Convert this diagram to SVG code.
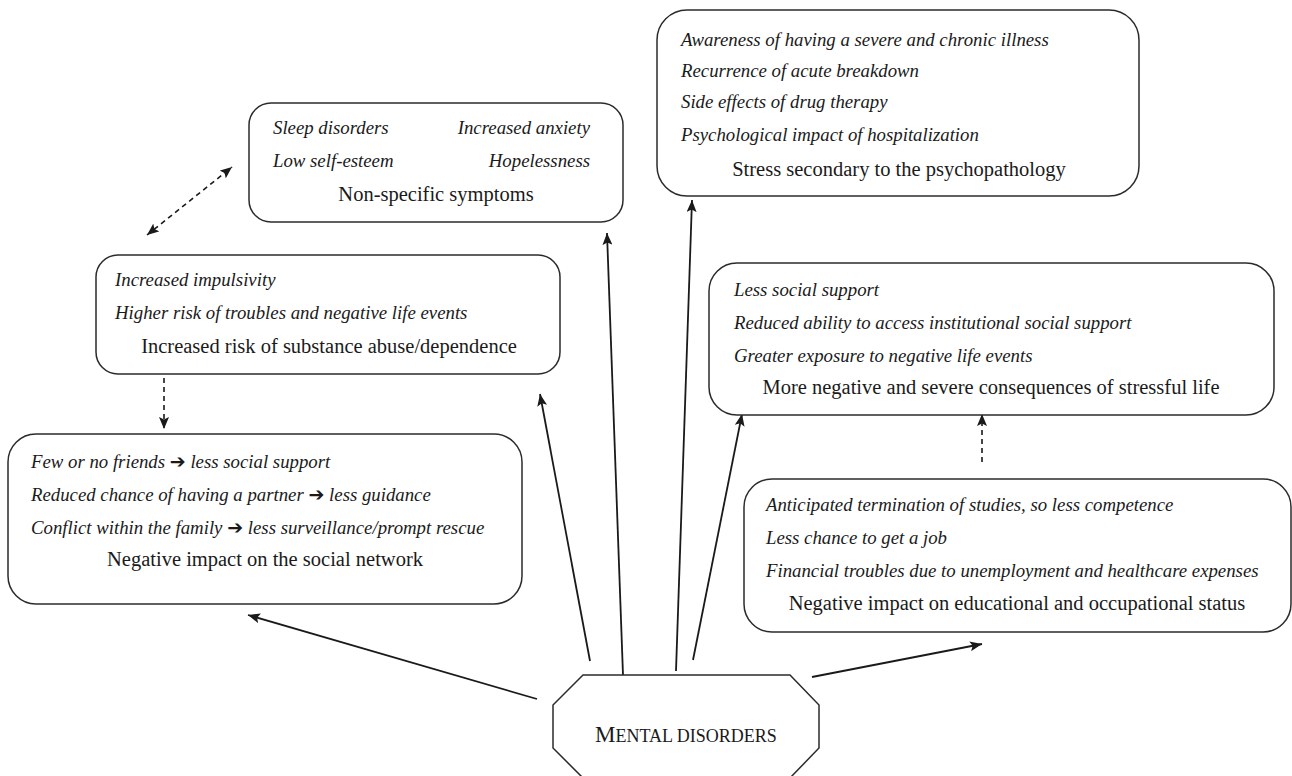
<svg xmlns="http://www.w3.org/2000/svg" width="1292" height="776" viewBox="0 0 1292 776">
<defs>
<style>
.box{fill:#fff;stroke:#2b2b2b;stroke-width:1.5}
.it{font-family:"Liberation Serif","Times New Roman",serif;font-style:italic;font-size:18.8px;fill:#1a1a1a}
.hd{font-family:"Liberation Serif","Times New Roman",serif;font-size:20.5px;fill:#1a1a1a;text-anchor:middle}
.ar{font-family:"DejaVu Sans",sans-serif;font-style:normal;font-size:19px}
.c{stroke:#1a1a1a;stroke-width:1.8;fill:none}
.d{stroke:#1a1a1a;stroke-width:1.6;fill:none;stroke-dasharray:5 4}
</style>
<marker id="ah" viewBox="0 0 12 10" refX="12" refY="5" markerWidth="12" markerHeight="10" markerUnits="userSpaceOnUse" orient="auto-start-reverse">
<path d="M0,0 L12,5 L0,10 L2.5,5 z" fill="#1a1a1a"/>
</marker>
</defs>
<rect width="1292" height="776" fill="#fff"/>

<g id="connectors">
<line class="c" x1="537" y1="699" x2="248" y2="615" marker-end="url(#ah)"/>
<line class="c" x1="590" y1="661" x2="540" y2="394" marker-end="url(#ah)"/>
<line class="c" x1="623" y1="675" x2="607" y2="233" marker-end="url(#ah)"/>
<line class="c" x1="676" y1="671" x2="692" y2="200" marker-end="url(#ah)"/>
<line class="c" x1="693" y1="660" x2="742" y2="414" marker-end="url(#ah)"/>
<line class="c" x1="812" y1="677" x2="982" y2="644" marker-end="url(#ah)"/>
<line class="d" x1="147" y1="235" x2="232" y2="167" marker-start="url(#ah)" marker-end="url(#ah)"/>
<line class="d" x1="164" y1="378" x2="164" y2="429" marker-end="url(#ah)"/>
<line class="d" x1="982" y1="462" x2="982" y2="414" marker-end="url(#ah)"/>
</g>

<g id="nonspecific">
<rect class="box" x="249" y="103" width="374" height="119" rx="22"/>
<text class="it" x="273" y="134">Sleep disorders</text>
<text class="it" x="590" y="134" text-anchor="end">Increased anxiety</text>
<text class="it" x="273" y="167">Low self-esteem</text>
<text class="it" x="590" y="167" text-anchor="end">Hopelessness</text>
<text class="hd" x="436" y="201">Non-specific symptoms</text>
</g>

<g id="substance">
<rect class="box" x="96" y="255" width="464" height="119" rx="22"/>
<text class="it" x="115" y="286">Increased impulsivity</text>
<text class="it" x="115" y="319">Higher risk of troubles and negative life events</text>
<text class="hd" x="329" y="353">Increased risk of substance abuse/dependence</text>
</g>

<g id="social">
<rect class="box" x="8" y="434" width="514" height="170" rx="28"/>
<text class="it" x="31" y="468">Few or no friends <tspan class="ar">➔</tspan> less social support</text>
<text class="it" x="31" y="501">Reduced chance of having a partner <tspan class="ar">➔</tspan> less guidance</text>
<text class="it" x="31" y="534">Conflict within the family <tspan class="ar">➔</tspan> less surveillance/prompt rescue</text>
<text class="hd" x="265" y="566">Negative impact on the social network</text>
</g>

<g id="stress">
<rect class="box" x="657" y="10" width="482" height="186" rx="30"/>
<text class="it" x="681" y="46">Awareness of having a severe and chronic illness</text>
<text class="it" x="681" y="77">Recurrence of acute breakdown</text>
<text class="it" x="681" y="108">Side effects of drug therapy</text>
<text class="it" x="681" y="141">Psychological impact of hospitalization</text>
<text class="hd" x="899" y="176">Stress secondary to the psychopathology</text>
</g>

<g id="stressful">
<rect class="box" x="709" y="263" width="565" height="152" rx="28"/>
<text class="it" x="734" y="296">Less social support</text>
<text class="it" x="734" y="329">Reduced ability to access institutional social support</text>
<text class="it" x="734" y="362">Greater exposure to negative life events</text>
<text class="hd" x="991" y="394">More negative and severe consequences of stressful life</text>
</g>

<g id="educational">
<rect class="box" x="744" y="479" width="547" height="153" rx="28"/>
<text class="it" x="766" y="511">Anticipated termination of studies, so less competence</text>
<text class="it" x="766" y="544">Less chance to get a job</text>
<text class="it" x="766" y="577">Financial troubles due to unemployment and healthcare expenses</text>
<text class="hd" x="1017" y="610">Negative impact on educational and occupational status</text>
</g>

<g id="mental">
<polygon class="box" points="583,675 790,675 819,705 819,748 790,778 583,778 553,748 553,705"/>
<text x="595" y="742" style="font-family:'Liberation Serif','Times New Roman',serif;fill:#1a1a1a"><tspan font-size="23">M</tspan><tspan font-size="18">ENTAL DISORDERS</tspan></text>
</g>
</svg>
